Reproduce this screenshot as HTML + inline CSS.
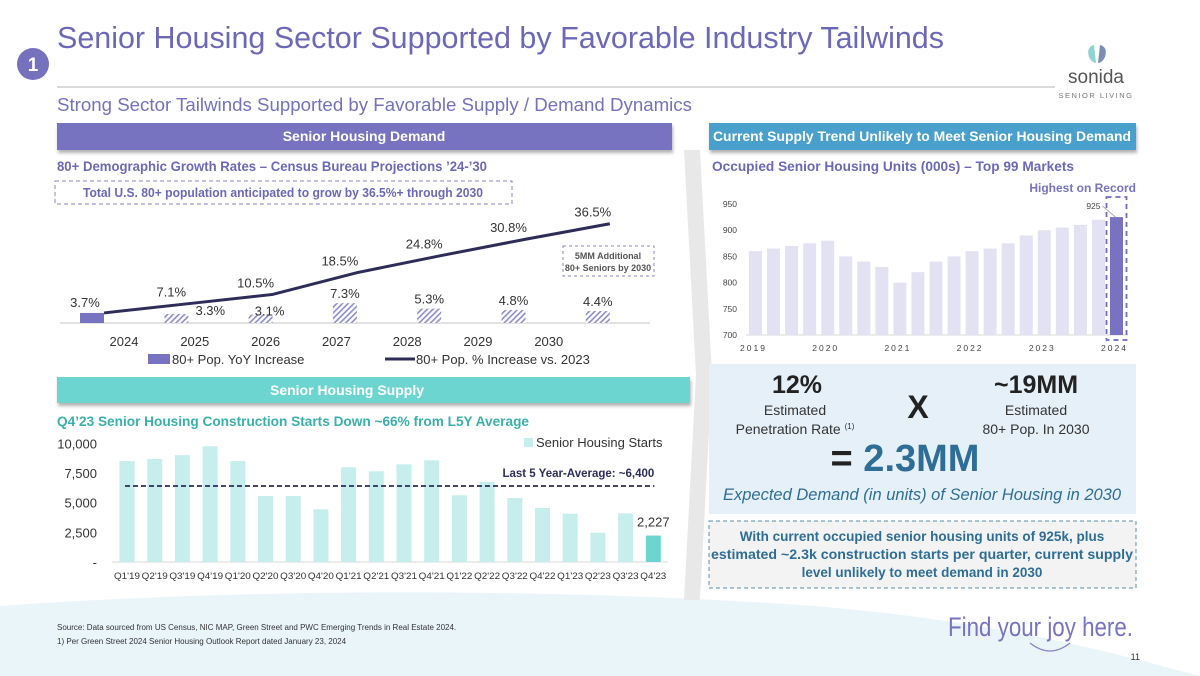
<!DOCTYPE html>
<html><head><meta charset="utf-8"><style>
html,body{margin:0;padding:0;background:#fff;}
svg{display:block;font-family:"Liberation Sans",sans-serif;}
</style></head><body>
<svg id="slide" width="1200" height="676" viewBox="0 0 1200 676" xmlns="http://www.w3.org/2000/svg">
<defs>
<pattern id="hatch" width="4" height="4" patternUnits="userSpaceOnUse" patternTransform="rotate(45)">
<rect width="4" height="4" fill="#ffffff"/><rect width="1.6" height="4" fill="#8f8bcb"/>
</pattern>
<filter id="sh" x="-5%" y="-20%" width="110%" height="160%"><feDropShadow dx="1" dy="3" stdDeviation="1.5" flood-color="#000" flood-opacity="0.3"/></filter>
</defs>
<path d="M0,606 C250,588 550,588 800,605 C1000,620 1120,655 1200,676 L0,676 Z" fill="#eaf5fa"/>
<polygon points="684,150 700,150 712,375 700,600 684,600 696,375" fill="#e8e8e8"/>

<!-- Header -->
<circle cx="33" cy="64" r="16" fill="#7571bd"/>
<text x="33" y="71" text-anchor="middle" font-size="19" font-weight="bold" fill="#fff">1</text>
<text x="57" y="48" font-size="31" fill="#6c68b7" textLength="887" lengthAdjust="spacingAndGlyphs">Senior Housing Sector Supported by Favorable Industry Tailwinds</text>
<line x1="57" y1="87" x2="1055" y2="87" stroke="#b5b5b5" stroke-width="1"/>
<text x="57" y="111" font-size="18" fill="#7571bd" textLength="635" lengthAdjust="spacingAndGlyphs">Strong Sector Tailwinds Supported by Favorable Supply / Demand Dynamics</text>
<g>
<path d="M1094,45 q-8,2 -5,12 q3,6 7,6 z" fill="#8fd3d0"/><path d="M1100,45 q8,2 5,12 q-3,6 -7,6 z" fill="#7b8fb5"/>
<text x="1096" y="83" text-anchor="middle" font-size="19" fill="#555">sonida</text>
<text x="1096" y="98" text-anchor="middle" font-size="7.5" fill="#777" letter-spacing="1.5">SENIOR LIVING</text>
</g>

<!-- Section headers -->
<rect x="57" y="123" width="615" height="27" fill="#7773c0" filter="url(#sh)"/>
<text x="364" y="141" text-anchor="middle" font-size="14" font-weight="bold" fill="#fff">Senior Housing Demand</text>
<rect x="709" y="123" width="427" height="27" fill="#4aa0cc" filter="url(#sh)"/>
<text x="922" y="141" text-anchor="middle" font-size="13.5" font-weight="bold" fill="#fff" textLength="418" lengthAdjust="spacingAndGlyphs">Current Supply Trend Unlikely to Meet Senior Housing Demand</text>

<!-- Demographic chart labels -->
<text x="57" y="171" font-size="14" font-weight="bold" fill="#6c68b7" textLength="430" lengthAdjust="spacingAndGlyphs">80+ Demographic Growth Rates – Census Bureau Projections ’24-’30</text>
<rect x="55" y="181" width="457" height="23" fill="none" stroke="#8a86c8" stroke-dasharray="4,3"/>
<text x="283" y="197" text-anchor="middle" font-size="13" font-weight="bold" fill="#6c68b7" textLength="400" lengthAdjust="spacingAndGlyphs">Total U.S. 80+ population anticipated to grow by 36.5%+ through 2030</text>
<rect x="563" y="246" width="91" height="30" fill="none" stroke="#8a86c8" stroke-dasharray="3,3"/>
<text x="608" y="259" text-anchor="middle" font-size="9" font-weight="bold" fill="#555">5MM Additional</text>
<text x="608" y="271" text-anchor="middle" font-size="9" font-weight="bold" fill="#555">80+ Seniors by 2030</text>
<g id="demoChart"></g>
<rect x="148" y="354" width="22" height="10" fill="#7773c0"/>
<text x="172" y="364" font-size="13" fill="#333">80+ Pop. YoY Increase</text>
<line x1="385" y1="359" x2="415" y2="359" stroke="#2e2d5a" stroke-width="3"/>
<text x="416" y="364" font-size="13" fill="#333">80+ Pop. % Increase vs. 2023</text>

<!-- Occupied units chart -->
<text x="712" y="171" font-size="14" font-weight="bold" fill="#6c68b7" textLength="362" lengthAdjust="spacingAndGlyphs">Occupied Senior Housing Units (000s) – Top 99 Markets</text>
<text x="1136" y="192" text-anchor="end" font-size="12" font-weight="bold" fill="#7773c0">Highest on Record</text>
<g id="unitsChart"></g>

<!-- Supply section -->
<rect x="57" y="377" width="633" height="26" fill="#6dd5d0" filter="url(#sh)"/>
<text x="347" y="395" text-anchor="middle" font-size="14" font-weight="bold" fill="#fff">Senior Housing Supply</text>
<text x="57" y="426" font-size="14" font-weight="bold" fill="#3ab0aa" textLength="472" lengthAdjust="spacingAndGlyphs">Q4’23 Senior Housing Construction Starts Down ~66% from L5Y Average</text>
<g id="startsChart"></g>

<!-- Demand calc box -->
<rect x="709" y="364" width="427" height="150" fill="#e6f0f8"/>
<text x="797" y="393" text-anchor="middle" font-size="25" font-weight="bold" fill="#222">12%</text>
<text x="795" y="415" text-anchor="middle" font-size="14" fill="#333">Estimated</text>
<text x="795" y="434" text-anchor="middle" font-size="14" fill="#333">Penetration Rate <tspan font-size="8" dy="-5">(1)</tspan></text>
<text x="918" y="418" text-anchor="middle" font-size="32" font-weight="bold" fill="#222">X</text>
<text x="1036" y="393" text-anchor="middle" font-size="25" font-weight="bold" fill="#222">~19MM</text>
<text x="1036" y="415" text-anchor="middle" font-size="14" fill="#333">Estimated</text>
<text x="1036" y="434" text-anchor="middle" font-size="14" fill="#333">80+ Pop. In 2030</text>
<text x="905" y="471" text-anchor="middle" font-size="38" font-weight="bold" fill="#2e6e96"><tspan fill="#222">=</tspan> 2.3MM</text>
<text x="922" y="500" text-anchor="middle" font-size="16.5" font-style="italic" fill="#2e6e96">Expected Demand (in units) of Senior Housing in 2030</text>
<rect x="709" y="521" width="427" height="67" fill="#f3f3f3" stroke="#5a8db0" stroke-dasharray="4,3"/>
<text x="922" y="541" text-anchor="middle" font-size="13.5" font-weight="bold" fill="#2e6e96">With current occupied senior housing units of 925k, plus</text>
<text x="922" y="559" text-anchor="middle" font-size="13.5" font-weight="bold" fill="#2e6e96" textLength="422" lengthAdjust="spacingAndGlyphs">estimated ~2.3k construction starts per quarter, current supply</text>
<text x="922" y="577" text-anchor="middle" font-size="13.5" font-weight="bold" fill="#2e6e96">level unlikely to meet demand in 2030</text>

<!-- Footer -->
<text x="57" y="630" font-size="8" fill="#333">Source: Data sourced from US Census, NIC MAP, Green Street and PWC Emerging Trends in Real Estate 2024.</text>
<text x="57" y="644" font-size="8" fill="#333">1)  Per Green Street 2024 Senior Housing Outlook Report dated January 23, 2024</text>
<text x="948" y="636" font-size="27" fill="#7773c0" textLength="185" lengthAdjust="spacingAndGlyphs">Find your joy here.</text>
<path d="M1030,643 q20,16 40,0" fill="none" stroke="#8a86c8" stroke-width="1.2"/>
<text x="1140" y="660" text-anchor="end" font-size="9" fill="#333">11</text>
</svg>
<script>
// ---- Demographic chart data ----
const demoYears = ['2024','2025','2026','2027','2028','2029','2030'];
const demoYoY = [3.7, 3.3, 3.1, 7.3, 5.3, 4.8, 4.4];
const demoCumulative = [3.7, 7.1, 10.5, 18.5, 24.8, 30.8, 36.5];
const demoYoYLabels = ['3.7%','3.3%','3.1%','7.3%','5.3%','4.8%','4.4%'];
const demoCumLabels = ['3.7%','7.1%','10.5%','18.5%','24.8%','30.8%','36.5%'];

// ---- Occupied units data ----
const unitValues = [860,865,870,875,880,850,840,830,800,820,840,850,860,865,875,890,900,905,910,920,925];
const unitYearTicks = ['2019','2020','2021','2022','2023','2024'];
const unitYTicks = [700,750,800,850,900,950];

// ---- Construction starts data ----
const startQuarters = ["Q1'19","Q2'19","Q3'19","Q4'19","Q1'20","Q2'20","Q3'20","Q4'20","Q1'21","Q2'21","Q3'21","Q4'21","Q1'22","Q2'22","Q3'22","Q4'22","Q1'23","Q2'23","Q3'23","Q4'23"];
const startValues = [8500,8680,9000,9750,8500,5560,5560,4440,7980,7640,8230,8570,5620,6740,5390,4550,4070,2470,4100,2227];
const startAverage = [6400];
const startYTicks = [0,2500,5000,7500,10000];
const startYTickLabels = ['-','2,500','5,000','7,500','10,000'];

const NS = 'http://www.w3.org/2000/svg';
function mk(parent, tag, attrs, text){
  const e = document.createElementNS(NS, tag);
  for (const k in attrs) e.setAttribute(k, attrs[k]);
  if (text !== undefined) e.textContent = text;
  parent.appendChild(e);
  return e;
}

// Demographic chart
(function(){
  const g = document.getElementById('demoChart');
  const x = i => 92 + 84.3 * i;
  const y = v => 323 - v * 2.72;
  const lx = i => 124 + 70.8 * i;
  const base = mk(g, 'line', {x1:60, y1:323, x2:650, y2:323, stroke:'#d9d9d9', 'stroke-width':1.5});
  
  
  demoYoY.forEach((v, i) => {
    const r = mk(g, 'rect', {x:x(i)-12, y:y(v), width:24, height:323-y(v), fill: i===0 ? '#7773c0' : 'url(#hatch)'});
    
    
    if (i > 0) {
      const dx = i === 1 ? 34 : (i === 2 ? 9 : 0);
      const dy = (i === 1 || i === 2) ? 1 : -5;
      const t = mk(g, 'text', {x:x(i)+dx, y:y(v)+dy, 'text-anchor':'middle', 'font-size':13, fill:'#333'}, demoYoYLabels[i]);
      
      
    }
    const yl = mk(g, 'text', {x:lx(i), y:346, 'text-anchor':'middle', 'font-size':13, fill:'#333'}, demoYears[i]);
    
    
  });
  const pts = demoCumulative.map((v, i) => (x(i)+12) + ',' + y(v)).join(' ');
  const pl = mk(g, 'polyline', {points:pts, fill:'none', stroke:'#2e2d5a', 'stroke-width':3});
  
  
  demoCumulative.forEach((v, i) => {
    const t = mk(g, 'text', {x: i===0 ? x(i)-7 : x(i)-5, y: i===0 ? y(v)-6 : y(v)-7, 'text-anchor':'middle', 'font-size':13, fill:'#333'}, demoCumLabels[i]);
    
    
  });
})();

// Occupied units chart
(function(){
  const g = document.getElementById('unitsChart');
  const x = i => 755.5 + 18.05 * i;
  const y = v => 335 - (v - 700) * 0.524;
  unitYTicks.forEach(t => {
    const e = mk(g, 'text', {x:737, y:y(t)+3, 'text-anchor':'end', 'font-size':8.5, fill:'#444'}, String(t));
    
    
  });
  const ax = mk(g, 'line', {x1:746, y1:335, x2:1128, y2:335, stroke:'#d9d9d9', 'stroke-width':1});
  
  
  const last = unitValues.length - 1;
  unitValues.forEach((v, i) => {
    const r = mk(g, 'rect', {x:x(i)-6.5, y:y(v), width:13, height:335-y(v), fill: i===last ? '#7773c0' : '#e3e2f3'});
    
    
  });
  unitYearTicks.forEach((t, k) => {
    const e = mk(g, 'text', {x:x(k*4)-2, y:351, 'text-anchor':'middle', 'font-size':8.5, fill:'#444', 'letter-spacing':'2'}, t);
    
    
  });
  const hx = x(last);
  const box = mk(g, 'rect', {x:hx-10, y:197, width:20, height:143, fill:'none', stroke:'#6f6cb8', 'stroke-width':1.8, 'stroke-dasharray':'5,4'});
  
  
  const lbl = mk(g, 'text', {x:hx-16, y:209, 'text-anchor':'end', 'font-size':8.5, fill:'#444'}, String(unitValues[last]));
  
  
  const ld = mk(g, 'line', {x1:hx-14, y1:206, x2:hx-1, y2:y(unitValues[last]), stroke:'#888', 'stroke-width':0.7});
  
  
})();

// Construction starts chart
(function(){
  const g = document.getElementById('startsChart');
  const x = i => 127 + 27.7 * i;
  const y = v => 562 - v * 0.01187;
  startYTicks.forEach((t, k) => {
    const e = mk(g, 'text', {x:97, y:y(t)+5, 'text-anchor':'end', 'font-size':13, fill:'#333'}, startYTickLabels[k]);
    
    
  });
  const ax = mk(g, 'line', {x1:112, y1:562, x2:668, y2:562, stroke:'#d9d9d9', 'stroke-width':1});
  
  
  const last = startValues.length - 1;
  startValues.forEach((v, i) => {
    const r = mk(g, 'rect', {x:x(i)-7.5, y:y(v), width:15, height:562-y(v), fill: i===last ? '#6dd5d0' : '#c6eeec'});
    
    
    const t = mk(g, 'text', {x:x(i), y:579, 'text-anchor':'middle', 'font-size':9.5, fill:'#333', textLength:26, lengthAdjust:'spacingAndGlyphs'}, startQuarters[i]);
    
    
  });
  const vl = mk(g, 'text', {x:x(last), y:y(startValues[last])-9, 'text-anchor':'middle', 'font-size':13, fill:'#333'}, '2,227');
  
  
  const avg = mk(g, 'line', {x1:x(0)-2, y1:y(startAverage[0]), x2:x(last)+1, y2:y(startAverage[0]), stroke:'#2e2d5a', 'stroke-width':1.8, 'stroke-dasharray':'5,3'});
  
  
  const al = mk(g, 'text', {x:x(last)+1, y:y(startAverage[0])-9, 'text-anchor':'end', 'font-size':11.5, 'font-weight':'bold', fill:'#2e2d5a'}, 'Last 5 Year-Average: ~6,400');
  
  
  const sw = mk(g, 'rect', {x:524, y:438, width:9, height:9, fill:'#c6eeec'});
  
  
  const st = mk(g, 'text', {x:536, y:447, 'font-size':13, fill:'#333'}, 'Senior Housing Starts');
  
  
})();
</script>
</body></html>
